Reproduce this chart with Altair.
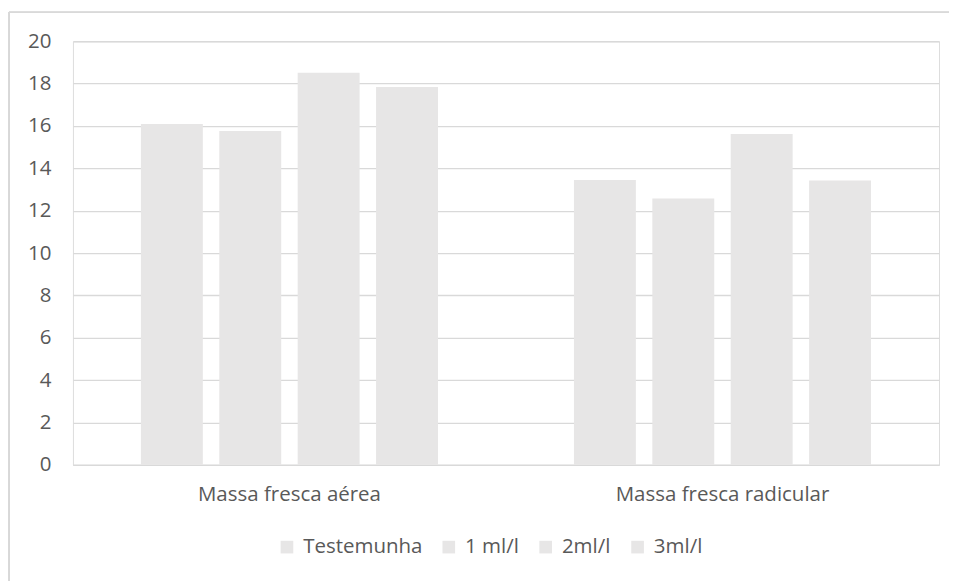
import altair as alt
import pandas as pd

categories = ["Massa fresca aérea", "Massa fresca radicular"]
series = ["Testemunha", "1 ml/l", "2ml/l", "3ml/l"]
values = {
    "Testemunha": [16.09, 13.45],
    "1 ml/l": [15.76, 12.58],
    "2ml/l": [18.51, 15.62],
    "3ml/l": [17.84, 13.43],
}

rows = []
for s in series:
    for c, v in zip(categories, values[s]):
        rows.append({"cat": c, "serie": s, "val": v})
df = pd.DataFrame(rows)

FONT = "Open Sans"
TXT = "#595959"
BAR = "#e7e6e6"
FS = 20.5

bars = alt.Chart(df).mark_bar(color=BAR).encode(
    x=alt.X("cat:N", sort=categories, title=None,
            scale=alt.Scale(paddingInner=0.314, paddingOuter=0.157),
            axis=alt.Axis(labelAngle=0, labelFont=FONT, labelFontSize=FS, labelColor=TXT,
                          labelPadding=20, labelLimit=0, ticks=False, domain=True,
                          domainColor="#d9d9d9", domainWidth=1.3, grid=False)),
    xOffset=alt.XOffset("serie:N", sort=series,
                        scale=alt.Scale(paddingInner=0.21, paddingOuter=0)),
    y=alt.Y("val:Q", title=None,
            scale=alt.Scale(domain=[0, 20]),
            axis=alt.Axis(values=list(range(0, 21, 2)), labelFont=FONT, labelFontSize=FS,
                          labelColor=TXT, labelPadding=22, ticks=False, domain=False,
                          gridColor="#d9d9d9", gridWidth=1.3)),
    color=alt.Color("serie:N", sort=series,
                    scale=alt.Scale(domain=series, range=[BAR] * 4),
                    legend=alt.Legend(title=None, orient="none", legendX=204, legendY=496,
                                      direction="horizontal", symbolType="square",
                                      symbolSize=160, symbolStrokeWidth=0,
                                      labelFont=FONT, labelFontSize=FS, labelColor=TXT,
                                      labelLimit=0, columnPadding=16, labelOffset=6)),
)

border_top = alt.Chart(df).mark_rule(color="#d9d9d9", strokeWidth=1.3).encode(
    x=alt.value(-64), x2=alt.value(1000), y=alt.value(-29))
border_left = alt.Chart(df).mark_rule(color="#d9d9d9", strokeWidth=1.3).encode(
    x=alt.value(-64), y=alt.value(-29), y2=alt.value(700))

chart = alt.layer(bars, border_top, border_left).properties(
    width=867, height=424,
    autosize=alt.AutoSizeParams(type="none"),
    padding={"left": 65, "top": 33, "right": 10, "bottom": 116},
).configure_view(stroke="transparent", strokeWidth=0).configure(background="white")

chart.save("out.html", embed_options={"renderer": "svg", "actions": False})
